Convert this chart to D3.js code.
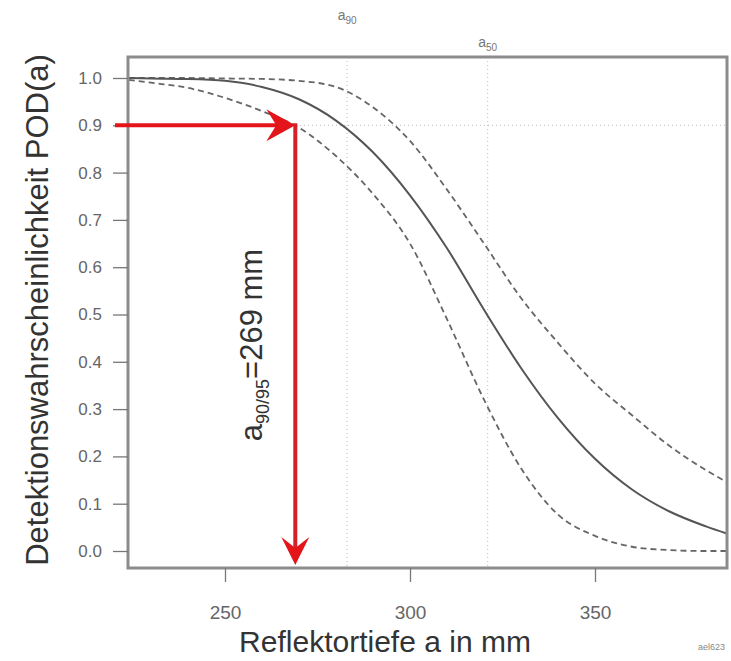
<!DOCTYPE html>
<html>
<head>
<meta charset="utf-8">
<script src="https://cdn.jsdelivr.net/npm/d3@7"></script>
<style>
  body { margin: 0; background: #fff; }
  svg { font-family: "Liberation Sans", Arial, Helvetica, sans-serif; }
</style>
</head>
<body>
<div id="chart"></div>
<script>
// depths (mm) and the POD curves
const depths   = [224, 230, 240, 250, 260, 270, 280, 290, 300, 310, 320, 330, 340, 350, 360, 370, 380, 386];
const podFit   = [1.0, 0.999, 0.998, 0.994, 0.981, 0.955, 0.91, 0.843, 0.752, 0.64, 0.51, 0.387, 0.281, 0.195, 0.13, 0.084, 0.052, 0.036];
const podUpper = [1.0, 1.0, 1.0, 0.999, 0.998, 0.994, 0.981, 0.938, 0.867, 0.764, 0.65, 0.535, 0.44, 0.354, 0.287, 0.223, 0.171, 0.144];
const podLower = [0.996, 0.99, 0.979, 0.958, 0.93, 0.895, 0.835, 0.755, 0.65, 0.49, 0.32, 0.175, 0.077, 0.032, 0.009, 0.002, 0.0, 0.0];

const xTicks = [250, 300, 350];
const yTicks = [0, 0.1, 0.2, 0.3, 0.4, 0.5, 0.6, 0.7, 0.8, 0.9, 1.0];

const A90 = 283;
const A50 = 321;
const A9095 = 269;
const LEVEL = 0.9;

const WIDTH = 731, HEIGHT = 661;
const box = { left: 128, right: 727, top: 57, bottom: 568 };

const RED = '#e3151b';

const svg = d3.select('#chart').append('svg')
  .attr('width', WIDTH)
  .attr('height', HEIGHT);

const x = d3.scaleLinear().domain([250, 350]).range([225, 595]);
const y = d3.scaleLinear().domain([0, 1]).range([551, 78]);

svg.append('defs').append('clipPath')
  .attr('id', 'plotclip')
  .append('rect')
  .attr('x', box.left)
  .attr('y', box.top)
  .attr('width', box.right - box.left)
  .attr('height', box.bottom - box.top);

const plot = svg.append('g').attr('clip-path', 'url(#plotclip)');

// reference lines (dotted)
plot.append('line')
  .attr('x1', box.left).attr('x2', box.right)
  .attr('y1', y(LEVEL)).attr('y2', y(LEVEL))
  .attr('stroke', '#bbb').attr('stroke-width', 1).attr('stroke-dasharray', '1,3');

[A90, A50].forEach((a) => {
  plot.append('line')
    .attr('x1', x(a)).attr('x2', x(a))
    .attr('y1', box.top).attr('y2', box.bottom)
    .attr('stroke', '#bbb').attr('stroke-width', 1).attr('stroke-dasharray', '1,3');
});

// curves
const line = d3.line()
  .x(d => x(d[0]))
  .y(d => y(d[1]))
  .curve(d3.curveMonotoneX);

const series = [
  { values: podUpper, dash: '6,4', color: '#666', width: 1.8 },
  { values: podLower, dash: '6,4', color: '#666', width: 1.8 },
  { values: podFit, dash: null, color: '#555', width: 2 },
];

series.forEach((s) => {
  plot.append('path')
    .datum(depths.map((a, i) => [a, s.values[i]]))
    .attr('d', line)
    .attr('fill', 'none')
    .attr('stroke', s.color)
    .attr('stroke-width', s.width)
    .attr('stroke-dasharray', s.dash);
});

// box
svg.append('rect')
  .attr('x', box.left)
  .attr('y', box.top)
  .attr('width', box.right - box.left)
  .attr('height', box.bottom - box.top)
  .attr('fill', 'none')
  .attr('stroke', '#8c8c8c')
  .attr('stroke-width', 3);

// axes
const yAxis = svg.append('g')
  .attr('transform', `translate(${box.left},0)`)
  .call(d3.axisLeft(y).tickValues(yTicks).tickFormat(d3.format('.1f')).tickSize(15).tickPadding(11));

const xAxis = svg.append('g')
  .attr('transform', `translate(0,${box.bottom})`)
  .call(d3.axisBottom(x).tickValues(xTicks).tickSize(14).tickPadding(24));

[yAxis, xAxis].forEach((ax) => {
  ax.select('.domain').remove();
  ax.selectAll('.tick line').attr('stroke', '#777').attr('stroke-width', 1.3);
  ax.selectAll('.tick text')
    .attr('fill', '#666')
    .style('font-family', '"Liberation Sans", Arial, sans-serif');
});
yAxis.selectAll('.tick text').style('font-size', '17px');
xAxis.selectAll('.tick text').style('font-size', '19px');

// axis titles
svg.append('text')
  .attr('x', 385)
  .attr('y', 652)
  .attr('text-anchor', 'middle')
  .attr('fill', '#333')
  .style('font-size', '30px')
  .text('Reflektortiefe a in mm');

svg.append('text')
  .attr('transform', 'translate(48,310) rotate(-90)')
  .attr('text-anchor', 'middle')
  .attr('fill', '#333')
  .style('font-size', '31px')
  .text('Detektionswahrscheinlichkeit POD(a)');

// a90 / a50 labels above the box
const topLabel = (a, ypos, sub) => {
  const t = svg.append('text')
    .attr('x', x(a))
    .attr('y', ypos)
    .attr('text-anchor', 'middle')
    .attr('fill', '#777')
    .style('font-size', '14px');
  t.append('tspan').text('a');
  t.append('tspan').attr('dy', 4).style('font-size', '10px').text(sub);
};
topLabel(A90, 20, '90');
topLabel(A50, 47, '50');

// red arrows
const yl = y(LEVEL);
const xl = x(A9095);
const arrowBottom = box.bottom - 3;

svg.append('line')
  .attr('x1', box.left - 13).attr('x2', xl - 16)
  .attr('y1', yl).attr('y2', yl)
  .attr('stroke', RED).attr('stroke-width', 4);

svg.append('path')
  .attr('d', `M${xl},${yl} L${xl - 29},${yl - 16} L${xl - 19},${yl} L${xl - 29},${yl + 16} Z`)
  .attr('fill', RED);

svg.append('line')
  .attr('x1', xl).attr('x2', xl)
  .attr('y1', yl - 2).attr('y2', arrowBottom - 16)
  .attr('stroke', '#d42026').attr('stroke-width', 4);

svg.append('path')
  .attr('d', `M${xl},${arrowBottom} L${xl - 14},${arrowBottom - 28} L${xl},${arrowBottom - 17} L${xl + 14},${arrowBottom - 28} Z`)
  .attr('fill', RED);

// rotated annotation
const ann = svg.append('text')
  .attr('transform', 'translate(262,345) rotate(-90)')
  .attr('text-anchor', 'middle')
  .attr('fill', '#333')
  .style('font-size', '31px');
ann.append('tspan').text('a');
ann.append('tspan').attr('dy', 7).style('font-size', '18px').text('90/95');
ann.append('tspan').attr('dy', -7).text('=269 mm');

// small figure id, bottom right
svg.append('text')
  .attr('x', 725)
  .attr('y', 650)
  .attr('text-anchor', 'end')
  .attr('fill', '#888')
  .style('font-size', '9px')
  .text('ael623');
</script>
</body>
</html>
